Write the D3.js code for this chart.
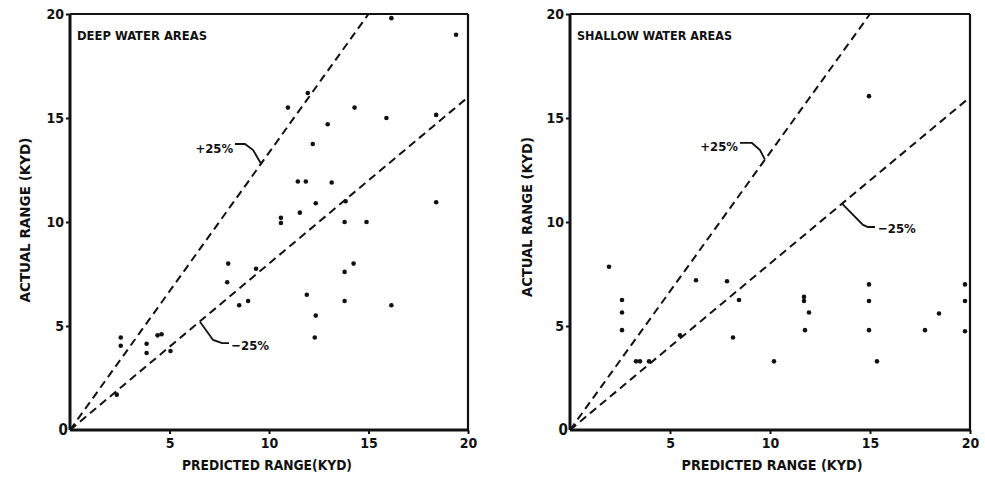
<!DOCTYPE html>
<html>
<head>
<meta charset="utf-8">
<script src="https://cdn.jsdelivr.net/npm/d3@7"></script>
<style>
  html, body { margin: 0; padding: 0; background: #fff; }
  svg { display: block; }
  text { font-family: "DejaVu Sans Condensed", "Liberation Sans Narrow", sans-serif; fill: #111; }
</style>
</head>
<body>
<svg id="chart" width="985" height="477"></svg>
<script>
// ---------- DATA ----------
const panelTitles = ["DEEP WATER AREAS", "SHALLOW WATER AREAS"];
const xAxisTitles = ["PREDICTED RANGE(KYD)", "PREDICTED  RANGE (KYD)"];
const yAxisTitle = "ACTUAL RANGE (KYD)";
const tickValues = [5, 10, 15, 20];
const tickLabels = ["5", "10", "15", "20"];
const originLabel = "0";
const lineFactors = [1 / 0.75, 1 / 1.25];   // +25% and -25% lines
const lineLabels = ["+25%", "\u221225%"];

// Deep water areas: predicted (x), actual (y)
const deepPredicted = [2.35, 2.55, 2.55, 3.85, 3.85, 4.4, 4.6, 5.05, 7.9, 7.95, 8.5, 8.95, 9.35,
  10.6, 10.6, 10.95, 11.45, 11.55, 11.85, 11.95, 11.9, 12.2, 12.3, 12.35, 12.35, 12.95, 13.15,
  13.8, 13.8, 13.8, 13.85, 14.3, 14.25, 14.9, 15.9, 16.15, 16.15, 18.4, 18.4, 19.4];
const deepActual = [1.7, 4.45, 4.05, 4.15, 3.7, 4.55, 4.6, 3.8, 7.1, 8.0, 6.0, 6.2, 7.75,
  10.2, 9.95, 15.5, 11.95, 10.45, 11.95, 16.2, 6.5, 13.75, 4.45, 5.5, 10.9, 14.7, 11.9,
  10.0, 7.6, 6.2, 11.0, 15.5, 8.0, 10.0, 15.0, 19.8, 6.0, 15.15, 10.95, 19.0];

// Shallow water areas
const shallowPredicted = [1.95, 2.6, 2.6, 2.6, 3.3, 3.5, 3.95, 5.5, 6.3, 7.85, 8.15, 8.45,
  10.2, 11.7, 11.7, 11.95, 11.75, 14.95, 14.95, 14.95, 14.95, 15.35, 17.75, 18.45, 19.75, 19.75, 19.75];
const shallowActual = [7.85, 6.25, 5.65, 4.8, 3.3, 3.3, 3.3, 4.55, 7.2, 7.15, 4.45, 6.25,
  3.3, 6.4, 6.2, 5.65, 4.8, 16.05, 7.0, 6.2, 4.8, 3.3, 4.8, 5.6, 7.0, 6.2, 4.75];

// Annotation label anchors and leaders (in data units)
const plusLabelPos = [[8.2, 13.56], [8.4, 13.62]];
const plusLeaders = [
  [[8.29, 13.75], [8.79, 13.75], [9.2, 13.46], [9.6, 12.8]],
  [[8.5, 13.8], [9.1, 13.8], [9.5, 13.46], [9.75, 13.0]]
];
const minusLabelPos = [[8.1, 4.05], [15.4, 9.7]];
const minusLeaders = [
  [[6.53, 5.2], [7.19, 4.33], [7.64, 4.18], [7.99, 4.18]],
  [[13.6, 10.88], [14.65, 9.86], [14.9, 9.76], [15.25, 9.76]]
];

// ---------- LAYOUT ----------
const panels = [
  { x0: 70, x1: 468, yTitleX: 25, xTitleX: 267, titleLen: 130, xTitleLen: 170,
    px: deepPredicted, py: deepActual },
  { x0: 570, x1: 970, yTitleX: 527, xTitleX: 772, titleLen: 155, xTitleLen: 181,
    px: shallowPredicted, py: shallowActual }
];
const yTop = 14, yBot = 430;

const svg = d3.select("#chart");

panels.forEach((p, i) => {
  const x = d3.scaleLinear().domain([0, 20]).range([p.x0, p.x1]);
  const y = d3.scaleLinear().domain([0, 20]).range([yBot, yTop]);
  const g = svg.append("g");

  // frame top/right
  g.append("line").attr("x1", x(0)).attr("x2", x(20)).attr("y1", y(20)).attr("y2", y(20))
    .attr("stroke", "#111").attr("stroke-width", 2.2);
  g.append("line").attr("x1", x(20)).attr("x2", x(20)).attr("y1", y(20)).attr("y2", y(0))
    .attr("stroke", "#111").attr("stroke-width", 2.2);

  // axes
  const xAxis = d3.axisBottom(x).tickValues(tickValues).tickSize(4).tickPadding(4)
    .tickFormat((d, k) => tickLabels[k]);
  const yAxis = d3.axisLeft(y).tickValues(tickValues).tickSize(4).tickPadding(2)
    .tickFormat((d, k) => tickLabels[k]);
  const gx = g.append("g").attr("transform", `translate(0,${yBot})`).call(xAxis);
  const gy = g.append("g").attr("transform", `translate(${p.x0},0)`).call(yAxis);
  [gx, gy].forEach(ax => {
    ax.select(".domain").attr("stroke", "#111").attr("stroke-width", 3);
    ax.selectAll(".tick line").attr("stroke", "#111").attr("stroke-width", 2);
    ax.selectAll(".tick text").attr("font-size", 14).attr("font-weight", "bold").attr("fill", "#111");
  });
  gx.select(".domain").attr("d", `M${x(0)},0H${x(20)}`);
  gy.select(".domain").attr("d", `M0,${y(0)}V${y(20)}`);
  gy.selectAll(".tick text").attr("dy", "0.35em");

  // origin label
  g.append("text").attr("x", x(0) - 2).attr("y", y(0)).attr("dy", "0.35em")
    .attr("text-anchor", "end").attr("font-size", 15).attr("font-weight", "bold").text(originLabel);

  // reference lines
  lineFactors.forEach(f => {
    const xEnd = Math.min(20, 20 / f);
    g.append("line")
      .attr("x1", x(0)).attr("y1", y(0)).attr("x2", x(xEnd)).attr("y2", y(xEnd * f))
      .attr("stroke", "#111").attr("stroke-width", 2).attr("stroke-dasharray", "8,5");
  });

  // leaders
  const lineGen = d3.line().x(d => x(d[0])).y(d => y(d[1])).curve(d3.curveLinear);
  [plusLeaders[i], minusLeaders[i]].forEach(pts => {
    g.append("path").attr("d", lineGen(pts)).attr("fill", "none")
      .attr("stroke", "#111").attr("stroke-width", 1.8);
  });
  g.append("text").attr("x", x(plusLabelPos[i][0])).attr("y", y(plusLabelPos[i][1]))
    .attr("dy", "0.35em").attr("text-anchor", "end").attr("font-size", 13).attr("font-weight", "bold")
    .text(lineLabels[0]);
  g.append("text").attr("x", x(minusLabelPos[i][0])).attr("y", y(minusLabelPos[i][1]))
    .attr("dy", "0.35em").attr("text-anchor", "start").attr("font-size", 13).attr("font-weight", "bold")
    .text(lineLabels[1]);

  // points
  g.selectAll("circle.pt").data(p.px.map((v, k) => [v, p.py[k]])).enter()
    .append("circle").attr("class", "pt")
    .attr("cx", d => x(d[0])).attr("cy", d => y(d[1])).attr("r", 2.3).attr("fill", "#111");

  // titles
  g.append("text").attr("x", p.x0 + 7).attr("y", 35).attr("dy", "0.35em")
    .attr("font-size", 13).attr("font-weight", "bold")
    .attr("textLength", p.titleLen).attr("lengthAdjust", "spacingAndGlyphs")
    .text(panelTitles[i]);
  g.append("text").attr("x", p.xTitleX).attr("y", 465).attr("dy", "0.35em")
    .attr("text-anchor", "middle").attr("font-size", 14).attr("font-weight", "bold")
    .attr("textLength", p.xTitleLen).attr("lengthAdjust", "spacingAndGlyphs")
    .text(xAxisTitles[i]);
  g.append("text").attr("transform", `translate(${p.yTitleX},${i === 0 ? 220 : 217}) rotate(-90)`)
    .attr("dy", "0.35em").attr("text-anchor", "middle").attr("font-size", 14).attr("font-weight", "bold")
    .attr("textLength", i === 0 ? 165 : 160).attr("lengthAdjust", "spacingAndGlyphs")
    .text(yAxisTitle);
});
</script>
</body>
</html>
